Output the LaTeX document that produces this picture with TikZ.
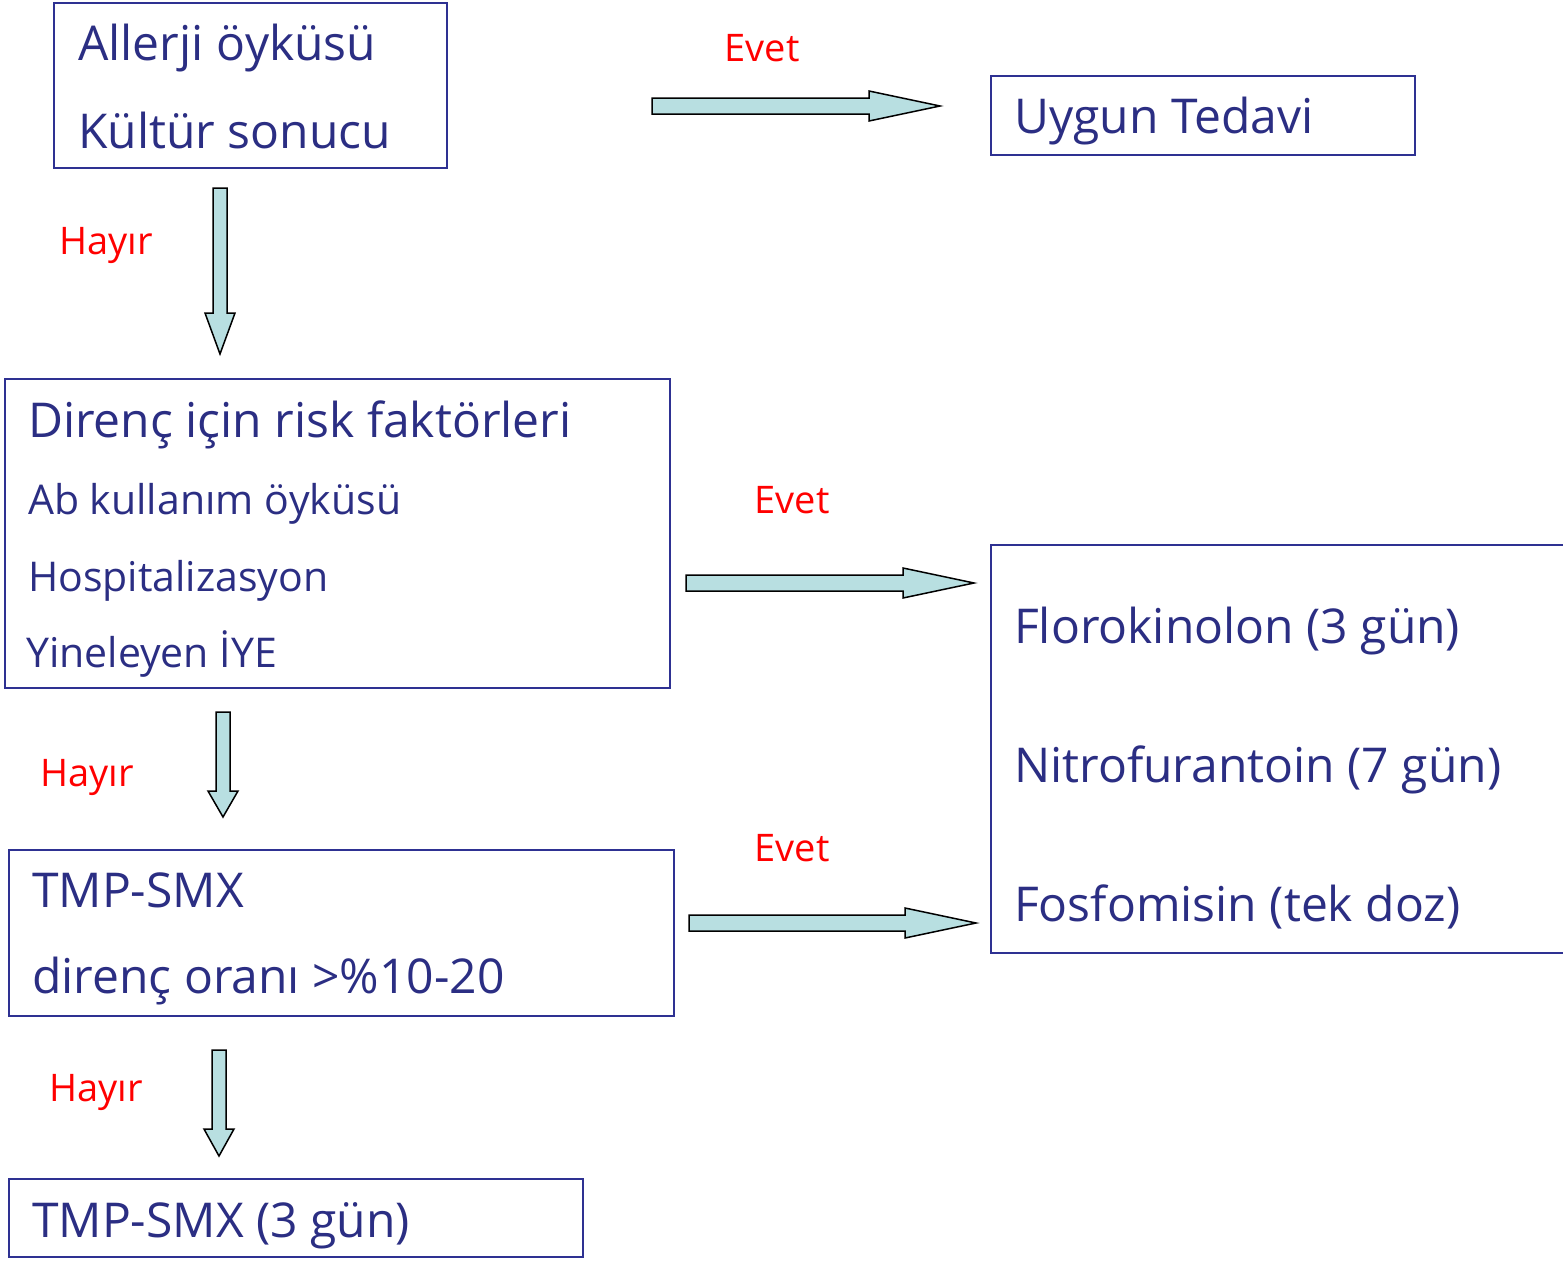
\documentclass[tikz,border=0pt]{standalone}
\usepackage{fontspec}
\setmainfont{Open Sans}
\usetikzlibrary{calc}
\definecolor{navy}{HTML}{2B2E83}
\definecolor{boxline}{HTML}{2E3192}
\definecolor{arrowfill}{HTML}{B8DFE1}
\definecolor{lblred}{HTML}{FF0000}
\tikzset{
  boxstyle/.style={draw=boxline, line width=1.6pt},
  bigtext/.style={anchor=base west, inner sep=0pt, text=navy, font=\fontsize{48}{56}\selectfont},
  midtext/.style={anchor=base west, inner sep=0pt, text=navy, font=\fontsize{41}{48}\selectfont},
  lbl/.style={anchor=center, inner sep=0pt, text=lblred, font=\fontsize{38}{44}\selectfont},
  blockarrow/.style={draw=black, line width=1.5pt, fill=arrowfill, line join=miter},
}
% horizontal block arrow from #1 to #2
\newcommand\harrow[2]{%
  \path[blockarrow] let \p1=(#1), \p2=(#2) in
    (\x1,\y1+8) -- (\x2-71,\y1+8) -- (\x2-71,\y1+15) -- (\x2,\y1)
    -- (\x2-71,\y1-15) -- (\x2-71,\y1-8) -- (\x1,\y1-8) -- cycle;}
% vertical (downward) block arrow from #1 to #2, head length #3
\newcommand\varrow[3]{%
  \path[blockarrow] let \p1=(#1), \p2=(#2) in
    (\x1-7,\y1) -- (\x1-7,\y2+#3) -- (\x1-15,\y2+#3) -- (\x1,\y2)
    -- (\x1+15,\y2+#3) -- (\x1+7,\y2+#3) -- (\x1+7,\y1) -- cycle;}
\begin{document}
\begin{tikzpicture}[x=1pt,y=-1pt]
\clip (0,0) rectangle (1563,1263);
\fill[white] (0,0) rectangle (1563,1263);

% boxes
\draw[boxstyle] (54,3) rectangle (447,168);
\draw[boxstyle] (991,76) rectangle (1415,155);
\draw[boxstyle] (5,379) rectangle (670,688);
\draw[boxstyle] (991,545) rectangle (1580,953);
\draw[boxstyle] (9,850) rectangle (674,1016);
\draw[boxstyle] (9,1179) rectangle (583,1257);

% texts
\node[bigtext] (t1) at (78,60) {Allerji öyküsü};
\node[bigtext] (t2) at (78,148) {Kültür sonucu};
\node[bigtext] (t3) at (1014,133) {Uygun Tedavi};
\node[bigtext] (t4) at (28,437) {Direnç için risk faktörleri};
\node[midtext] (t5) at (28,514) {Ab kullanım öyküsü};
\node[midtext] (t6) at (28,591) {Hospitalizasyon};
\node[midtext] (t7) at (26,667) {Yineleyen İYE};
\node[bigtext] (t8) at (1014,643) {Florokinolon (3 gün)};
\node[bigtext] (t9) at (1014,782) {Nitrofurantoin (7 gün)};
\node[bigtext] (t10) at (1014,921) {Fosfomisin (tek doz)};
\node[bigtext] (t11) at (32,907) {TMP-SMX};
\node[bigtext] (t12) at (32,993) {direnç oranı >\%10-20};
\node[bigtext] (t13) at (32,1237) {TMP-SMX (3 gün)};

% labels
\node[lbl] (l1) at (762,48) {Evet};
\node[lbl] (l2) at (106,245) {Hayır};
\node[lbl] (l3) at (792,500) {Evet};
\node[lbl] (l4) at (87,777) {Hayır};
\node[lbl] (l5) at (792,848) {Evet};
\node[lbl] (l6) at (96,1092) {Hayır};

% arrow end points
\coordinate (a1s) at (652,106); \coordinate (a1t) at (940,106);
\coordinate (a2s) at (686,583); \coordinate (a2t) at (974,583);
\coordinate (a3s) at (689,923); \coordinate (a3t) at (976,923);
\coordinate (d1s) at (220,188); \coordinate (d1t) at (220,354);
\coordinate (d2s) at (223,712); \coordinate (d2t) at (223,817);
\coordinate (d3s) at (219,1050); \coordinate (d3t) at (219,1156);

\harrow{a1s}{a1t}
\harrow{a2s}{a2t}
\harrow{a3s}{a3t}
\varrow{d1s}{d1t}{41}
\varrow{d2s}{d2t}{26}
\varrow{d3s}{d3t}{27}
\end{tikzpicture}
\end{document}
